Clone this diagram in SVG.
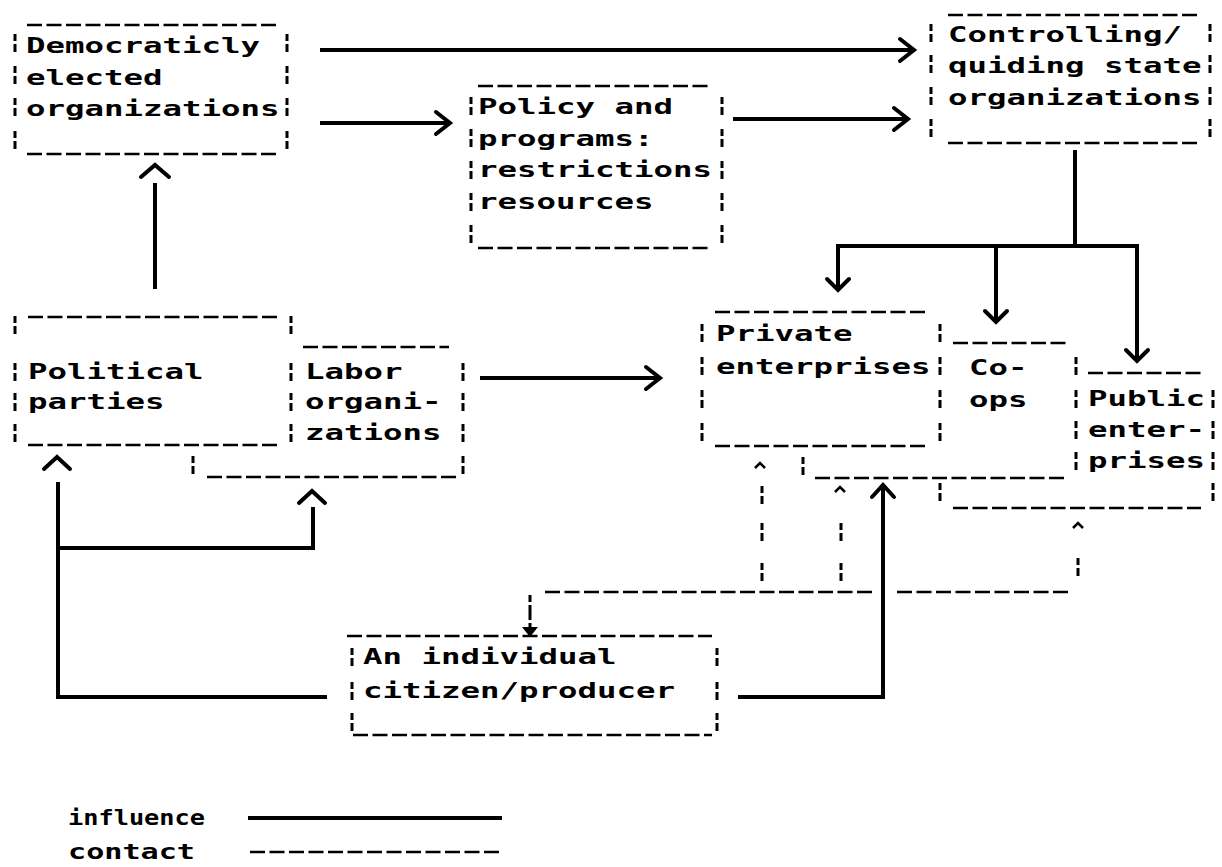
<svg xmlns="http://www.w3.org/2000/svg" xmlns:xlink="http://www.w3.org/1999/xlink" width="1222" height="867" viewBox="0 0 1222 867">
<defs>
<style>
.t{font-family:"DejaVu Sans Mono","Liberation Mono",monospace;font-size:22px;font-weight:bold;fill:#000}
.u{stroke:#000;stroke-width:2.5;stroke-dasharray:15 4.5;fill:none}
.bar{stroke:#000;stroke-width:3;fill:none}
.s{stroke:#000;stroke-width:4;fill:none;stroke-linejoin:miter}
.h{stroke:#000;stroke-width:4;fill:none;stroke-linecap:round;stroke-linejoin:miter}
.sh{stroke:#000;stroke-width:2.5;fill:none}
.c{stroke:#000;stroke-width:2.5;stroke-dasharray:15 4.5;fill:none}
</style>
<path id="b" class="bar" d="M0,-9 v7 M0,1 v8"/>
</defs>
<rect width="1222" height="867" fill="#fff"/>

<g id="democratic">
<path class="u" d="M27,25 H280 M27,154 H280"/>
<use xlink:href="#b" x="15" y="43"/><use xlink:href="#b" x="15" y="75"/><use xlink:href="#b" x="15" y="107"/><use xlink:href="#b" x="15" y="140"/>
<use xlink:href="#b" x="287" y="43"/><use xlink:href="#b" x="287" y="75"/><use xlink:href="#b" x="287" y="107"/><use xlink:href="#b" x="287" y="140"/>
<text class="t" x="26" y="53" textLength="234" lengthAdjust="spacingAndGlyphs">Democraticly</text>
<text class="t" x="26" y="85" textLength="136.5" lengthAdjust="spacingAndGlyphs">elected</text>
<text class="t" x="26" y="116" textLength="253.5" lengthAdjust="spacingAndGlyphs">organizations</text>
</g>

<g id="policy">
<path class="u" d="M478,86 H710 M478,248 H710"/>
<use xlink:href="#b" x="471" y="106"/><use xlink:href="#b" x="471" y="138"/><use xlink:href="#b" x="471" y="170"/><use xlink:href="#b" x="471" y="202"/><use xlink:href="#b" x="471" y="234"/>
<use xlink:href="#b" x="722" y="106"/><use xlink:href="#b" x="722" y="138"/><use xlink:href="#b" x="722" y="170"/><use xlink:href="#b" x="722" y="202"/><use xlink:href="#b" x="722" y="234"/>
<text class="t" x="478" y="114" textLength="195" lengthAdjust="spacingAndGlyphs">Policy and</text>
<text class="t" x="478" y="146" textLength="175.5" lengthAdjust="spacingAndGlyphs">programs:</text>
<text class="t" x="478" y="177" textLength="234" lengthAdjust="spacingAndGlyphs">restrictions</text>
<text class="t" x="478" y="209" textLength="175.5" lengthAdjust="spacingAndGlyphs">resources</text>
</g>

<g id="controlling">
<path class="u" d="M948,15 H1200 M948,143 H1200"/>
<use xlink:href="#b" x="931" y="33"/><use xlink:href="#b" x="931" y="64"/><use xlink:href="#b" x="931" y="96"/><use xlink:href="#b" x="931" y="128"/>
<use xlink:href="#b" x="1210" y="33"/><use xlink:href="#b" x="1210" y="64"/><use xlink:href="#b" x="1210" y="96"/><use xlink:href="#b" x="1210" y="128"/>
<text class="t" x="948" y="42" textLength="234" lengthAdjust="spacingAndGlyphs">Controlling/</text>
<text class="t" x="948" y="73" textLength="253.5" lengthAdjust="spacingAndGlyphs">quiding state</text>
<text class="t" x="948" y="105" textLength="253.5" lengthAdjust="spacingAndGlyphs">organizations</text>
</g>

<g id="labor">
<path class="u" d="M303,347 H449 M207,477 H459"/>
<use xlink:href="#b" x="193" y="465"/>
<use xlink:href="#b" x="463" y="372"/><use xlink:href="#b" x="463" y="402"/><use xlink:href="#b" x="463" y="433"/><use xlink:href="#b" x="463" y="465"/>
<text class="t" x="305" y="379" textLength="97.5" lengthAdjust="spacingAndGlyphs">Labor</text>
<text class="t" x="305" y="409" textLength="136.5" lengthAdjust="spacingAndGlyphs">organi-</text>
<text class="t" x="305" y="440" textLength="136.5" lengthAdjust="spacingAndGlyphs">zations</text>
</g>

<g id="political">
<path class="u" d="M28,317 H278 M28,445 H278"/>
<use xlink:href="#b" x="15" y="325"/><use xlink:href="#b" x="15" y="372"/><use xlink:href="#b" x="15" y="402"/><use xlink:href="#b" x="15" y="433"/>
<use xlink:href="#b" x="291" y="325"/><use xlink:href="#b" x="291" y="372"/><use xlink:href="#b" x="291" y="402"/><use xlink:href="#b" x="291" y="433"/>
<text class="t" x="28" y="379" textLength="175.5" lengthAdjust="spacingAndGlyphs">Political</text>
<text class="t" x="28" y="409" textLength="136.5" lengthAdjust="spacingAndGlyphs">parties</text>
</g>

<g id="public">
<path class="u" d="M1088,373 H1201 M953,508 H1201"/>
<use xlink:href="#b" x="1213" y="399"/><use xlink:href="#b" x="1213" y="430"/><use xlink:href="#b" x="1213" y="461"/><use xlink:href="#b" x="1213" y="492"/>
<use xlink:href="#b" x="940" y="492"/>
<text class="t" x="1088" y="406" textLength="117" lengthAdjust="spacingAndGlyphs">Public</text>
<text class="t" x="1088" y="437" textLength="117" lengthAdjust="spacingAndGlyphs">enter-</text>
<text class="t" x="1088" y="468" textLength="117" lengthAdjust="spacingAndGlyphs">prises</text>
</g>

<g id="coops">
<path class="u" d="M953,343 H1066 M815,478 H1066"/>
<use xlink:href="#b" x="1076" y="366"/><use xlink:href="#b" x="1076" y="399"/><use xlink:href="#b" x="1076" y="430"/><use xlink:href="#b" x="1076" y="461"/>
<use xlink:href="#b" x="803" y="466"/>
<text class="t" x="969" y="375" textLength="58.5" lengthAdjust="spacingAndGlyphs">Co-</text>
<text class="t" x="969" y="407" textLength="58.5" lengthAdjust="spacingAndGlyphs">ops</text>
</g>

<g id="private">
<path class="u" d="M715,312 H929 M715,446 H929"/>
<use xlink:href="#b" x="702" y="333"/><use xlink:href="#b" x="702" y="366"/><use xlink:href="#b" x="702" y="399"/><use xlink:href="#b" x="702" y="432"/>
<use xlink:href="#b" x="940" y="333"/><use xlink:href="#b" x="940" y="366"/><use xlink:href="#b" x="940" y="399"/><use xlink:href="#b" x="940" y="432"/>
<text class="t" x="716" y="341" textLength="136.5" lengthAdjust="spacingAndGlyphs">Private</text>
<text class="t" x="716" y="374" textLength="214.5" lengthAdjust="spacingAndGlyphs">enterprises</text>
</g>

<g id="citizen">
<path class="u" d="M347,636 H712 M353,735 H712"/>
<use xlink:href="#b" x="352" y="657"/><use xlink:href="#b" x="352" y="691"/><use xlink:href="#b" x="352" y="722"/>
<use xlink:href="#b" x="717" y="657"/><use xlink:href="#b" x="717" y="691"/><use xlink:href="#b" x="717" y="722"/>
<text class="t" x="363" y="664" textLength="253.5" lengthAdjust="spacingAndGlyphs">An individual</text>
<text class="t" x="363" y="698" textLength="312" lengthAdjust="spacingAndGlyphs">citizen/producer</text>
</g>

<g id="connectors">
<path class="s" d="M320,50 H913"/><path class="h" d="M900,39 L914,50 L900,61"/>
<path class="s" d="M320,123 H449"/><path class="h" d="M436,112 L450,123 L436,134"/>
<path class="s" d="M733,119 H907"/><path class="h" d="M894,108 L908,119 L894,130"/>
<path class="h" d="M141,177 L155,165 L169,177"/><path class="s" d="M155,183 V289"/>
<path class="s" d="M1075,150 V246 M836,246 H1139 M838,244 V288 M996,246 V320 M1137,244 V359"/>
<path class="h" d="M827,279 L838,290 L849,279"/>
<path class="h" d="M985,311 L996,322 L1007,311"/>
<path class="h" d="M1126,350 L1137,361 L1148,350"/>
<path class="s" d="M480,378 H659"/><path class="h" d="M646,367 L660,378 L646,389"/>
<path class="h" d="M44,469 L57,457 L70,469"/><path class="s" d="M58,482 V697 H327"/>
<path class="s" d="M58,548 H313 V507"/><path class="h" d="M299,503 L312,491 L325,503"/>
<path class="s" d="M738,697 H883 V487"/><path class="h" d="M872,497 L883,485 L894,497"/>
<path class="c" d="M1068,592 H894 M872,592 H542"/>
<use xlink:href="#b" x="530" y="604"/><use xlink:href="#b" x="530" y="622"/>
<polygon points="522,627 538,627 530,637" fill="#000"/>
<path class="sh" d="M755,468 L760,463 L765,468"/>
<use xlink:href="#b" x="762" y="495"/><use xlink:href="#b" x="762" y="532"/><use xlink:href="#b" x="762" y="572"/>
<path class="sh" d="M835,492 L840,487 L845,492"/>
<use xlink:href="#b" x="841" y="532"/><use xlink:href="#b" x="841" y="572"/>
<path class="sh" d="M1073,528 L1078,523 L1083,528"/>
<use xlink:href="#b" x="1078" y="567"/>
</g>

<g id="legend">
<text class="t" x="68" y="825" textLength="137" lengthAdjust="spacingAndGlyphs">influence</text>
<text class="t" x="68" y="859" textLength="127" lengthAdjust="spacingAndGlyphs">contact</text>
<path class="s" d="M248,818 H502"/>
<path class="c" d="M250,852 H502"/>
</g>
</svg>
